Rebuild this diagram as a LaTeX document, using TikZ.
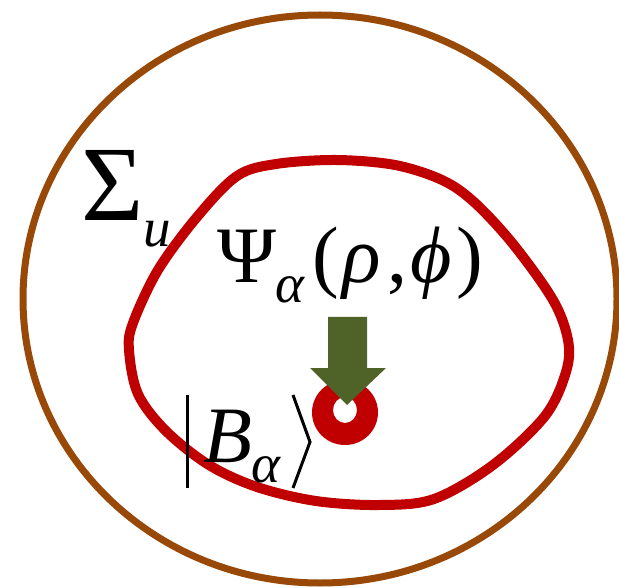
\documentclass[tikz,border=0pt]{standalone}
\usepackage{fontspec}
\setmainfont{Liberation Serif}
\definecolor{brownline}{HTML}{984807}
\definecolor{curvered}{HTML}{C00000}
\definecolor{arrowgreen}{HTML}{4F6228}
\begin{document}
\begin{tikzpicture}[x=1pt,y=-1pt,
  glyph/.style={inner sep=0pt, outer sep=0pt, anchor=base west, text=black},
  big/.style={font=\fontsize{107pt}{110pt}\selectfont},
  mid/.style={font=\fontsize{80pt}{84pt}\selectfont},
  midit/.style={font=\fontsize{80pt}{84pt}\selectfont\itshape},
  subit/.style={font=\fontsize{55pt}{58pt}\selectfont\itshape},
  delim/.style={line width=3pt, black}]
\useasboundingbox (0,0) rectangle (619,588);
\fill[white] (0,0) rectangle (619,588);
% outer boundary
\draw[brownline, line width=7pt] (320,299) ellipse [x radius=297, y radius=284];
% red closed curve
\draw[curvered, line width=10pt] plot[smooth cycle, tension=0.55] coordinates {
 (336,160) (395,165) (442,180) (474,202) (513,244) (553,300) (568,340)
 (566,372) (545,416) (493,465) (434,499) (379,505) (316,501) (257,487)
 (209,465) (166,431) (138,394) (129,350) (133,323) (158,270) (197,217) (237,176) (276,164)};
% ring
\fill[curvered, even odd rule] (345,412.5) ellipse [x radius=33, y radius=32.5]
  (345,410) ellipse [x radius=12, y radius=13];
% arrow
\fill[arrowgreen] (328,317) -- (367,317) -- (367,368) -- (386,368) -- (347,405)
  -- (310,368) -- (328,368) -- cycle;
% Sigma_u
\node[glyph, big] (sig) at (81,221) {Σ};
\node[glyph, subit] (sigu) at (143,247) {u};
% Psi_alpha(rho,phi)
\node[glyph, mid] (psi) at (217,283) {Ψ};
\node[glyph, subit] (psia) at (275,302) {α};
\node[glyph, mid] (lp) at (312,283) {(};
\node[glyph, midit] (rho) at (342,283) {ρ};
\node[glyph, mid] (comma) at (387,283) {,};
\node[glyph, midit] (phi) at (410,283) {ϕ};
\node[glyph, mid] (rp) at (456,283) {)};
% |B_alpha>
\coordinate (bartop) at (187,395);
\coordinate (barbot) at (187,488);
\draw[delim] (bartop) -- (barbot);
\node[glyph, midit] (bee) at (203,462) {B};
\node[glyph, subit] (beea) at (251,482) {α};
\coordinate (kt) at (293,395);
\coordinate (km) at (310,442);
\coordinate (kb) at (293,488);
\draw[delim, line join=miter] (kt) -- (km) -- (kb);
\end{tikzpicture}
\end{document}
